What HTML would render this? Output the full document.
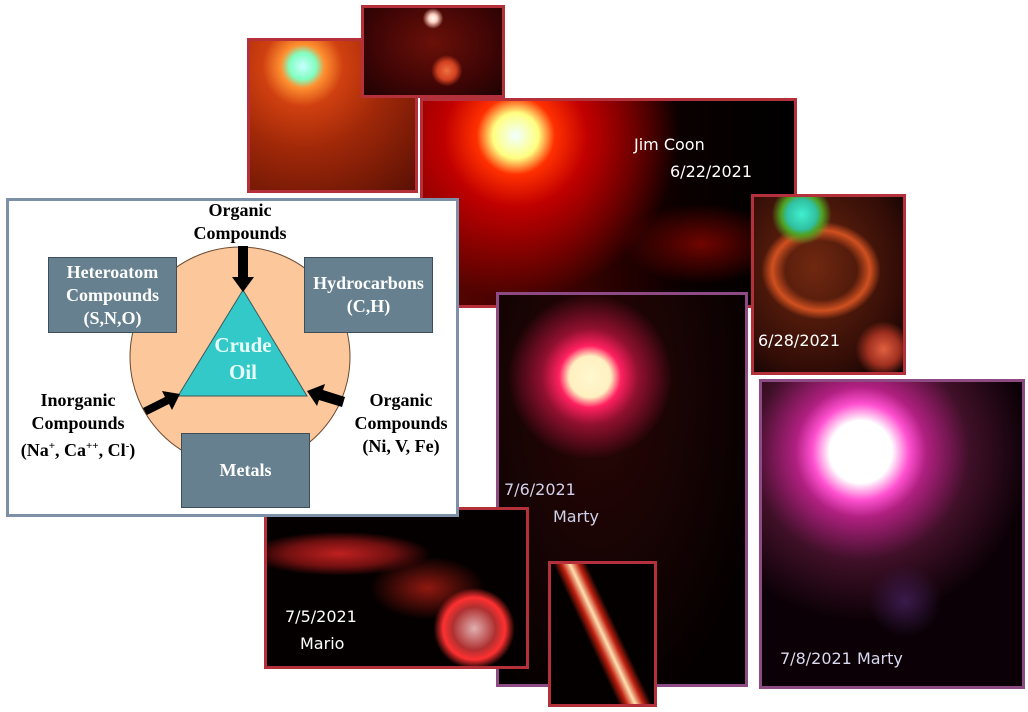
<!DOCTYPE html>
<html><head><style>
body{margin:0;width:1028px;height:712px;background:#fff;position:relative;overflow:hidden;font-family:"Liberation Sans",sans-serif}
.p{position:absolute;box-sizing:border-box;border:3px solid #b4303a;overflow:hidden;background:#000}
.pu{border-color:#8e4a82}
.t{position:absolute;color:#fff;font-family:"DejaVu Sans","Liberation Sans",sans-serif;font-size:16px;white-space:nowrap}
.d{position:absolute;font-family:"Liberation Serif",serif;font-weight:bold;text-align:center;line-height:23px}
.box{position:absolute;background:#66808f;border:1px solid #3e4e58;color:#fff;font-family:"Liberation Serif",serif;font-weight:bold;font-size:18px;text-align:center;box-sizing:border-box;display:flex;align-items:center;justify-content:center;line-height:23px}
</style></head><body>
<div class="p" style="left:247px;top:38px;width:171px;height:155px;background:radial-gradient(circle at 32% 17%,#c8ffff 0,#80ffc0 8%,#ff9030 13%,#d04010 24%,#a02808 50%,#5a1005 100%)"></div>
<div class="p" style="left:361px;top:5px;width:144px;height:93px;background:radial-gradient(circle at 50% 12%,#fff 0,#ffd0c0 4%,transparent 10%),radial-gradient(circle at 60% 72%,#f07040 0,#d04020 9%,transparent 15%),radial-gradient(ellipse at 50% 40%,#6a1008,#400505 60%,#200202)"></div>
<div class="p" style="left:420px;top:98px;width:377px;height:210px;background:radial-gradient(circle at 25% 17%,#f0ffff 0,#ffff80 7%,#ff3000 12%,#c00000 22%,transparent 50%),radial-gradient(ellipse at 75% 70%,#700400 0,transparent 20%),linear-gradient(90deg,#5a0400 0%,#3a0200 40%,#0a0000 70%,#000)">
<div class="t" style="left:211px;top:34px">Jim Coon</div><div class="t" style="left:247px;top:61px">6/22/2021</div></div>
<div class="p" style="left:751px;top:194px;width:155px;height:181px;background:radial-gradient(circle at 87% 87%,#e06040 0,#a03020 8%,transparent 14%),radial-gradient(circle at 32% 10%,#40f0d0 0,#30c0a0 8%,#50a020 11%,transparent 16%),radial-gradient(ellipse 40% 28% at 45% 42%,transparent 60%,#d05020 82%,transparent 100%),radial-gradient(ellipse at 40% 40%,#702810,#300c06 70%,#000)">
<div class="t" style="left:4px;top:134px">6/28/2021</div></div>
<div class="p pu" style="left:496px;top:292px;width:252px;height:395px;background:radial-gradient(circle at 37% 21%,#fff8d0 0,#fff0c0 6%,#ff2060 9%,#901030 14%,transparent 24%),radial-gradient(ellipse at 40% 25%,#2a0606,#140303 50%,#050000 80%)">
<div class="t" style="left:5px;top:185px;color:#d0d0ea">7/6/2021</div><div class="t" style="left:54px;top:212px;color:#d0d0ea">Marty</div></div>
<div class="p pu" style="left:759px;top:379px;width:266px;height:310px;background:radial-gradient(circle at 55% 72%,#3a1a4a 0,transparent 14%),radial-gradient(circle at 38% 23%,#fff 0,#fff 11%,#ff50d0 17%,#b02080 23%,#401028 38%,transparent 60%),#0a0005">
<div class="t" style="left:18px;top:267px;color:#d8d8ee">7/8/2021 Marty</div></div>
<div class="p" style="left:264px;top:507px;width:265px;height:162px;background:radial-gradient(circle at 80% 76%,#e0b0b0 0,#b03030 9%,#ff3030 13%,transparent 17%),radial-gradient(ellipse 35% 14% at 28% 28%,#c02020 0,#701010 60%,transparent 100%),radial-gradient(ellipse 22% 20% at 62% 50%,#901810 0,transparent 100%),#050000">
<div class="t" style="left:18px;top:97px">7/5/2021</div><div class="t" style="left:33px;top:124px">Mario</div></div>
<div class="p" style="left:548px;top:561px;width:109px;height:146px;background:linear-gradient(65deg,transparent 40%,#c02010 45%,#ffe0b0 50%,#c02010 55%,transparent 60%),#050000"></div>

<div style="position:absolute;left:6px;top:198px;width:453px;height:319px;box-sizing:border-box;border:3px solid #7d90a8;background:#fff"></div>
<svg style="position:absolute;left:0;top:0" width="1028" height="712">
<circle cx="240" cy="357" r="110" fill="#fbc79b" stroke="#6a4a30" stroke-width="1"/>
<polygon points="243,290 178,396 307,396" fill="#33c9c9" stroke="#3a5a5a" stroke-width="1"/>
<polygon points="238,246 248,246 248,277 254,277 243,292 232,277 238,277" fill="#000"/>
<polygon points="143,408 165,397 162,391 180,394 172,410 169,404 147,415" fill="#000"/>
<polygon points="345,397 323,390 325,384 307,391 317,406 319,400 342,407" fill="#000"/>
</svg>
<div class="box" style="left:48px;top:257px;width:129px;height:76px">Heteroatom<br>Compounds<br>(S,N,O)</div>
<div class="box" style="left:304px;top:257px;width:129px;height:76px">Hydrocarbons<br>(C,H)</div>
<div class="box" style="left:181px;top:433px;width:129px;height:75px">Metals</div>
<div style="position:absolute;left:243px;top:290px;width:0"><div style="position:absolute;left:-40px;width:80px;top:42px;color:#e8fff8;font-family:'Liberation Serif',serif;font-weight:bold;font-size:21px;line-height:27px;text-align:center">Crude<br>Oil</div></div>
<div class="d" style="left:175px;top:199px;width:130px;font-size:18px">Organic<br>Compounds</div>
<div class="d" style="left:2px;top:389px;width:152px;font-size:18px">Inorganic<br>Compounds<br>(Na<sup style="font-size:11px">+</sup>, Ca<sup style="font-size:11px">++</sup>, Cl<sup style="font-size:11px">-</sup>)</div>
<div class="d" style="left:342px;top:389px;width:118px;font-size:18px">Organic<br>Compounds<br>(Ni, V, Fe)</div>
</body></html>
